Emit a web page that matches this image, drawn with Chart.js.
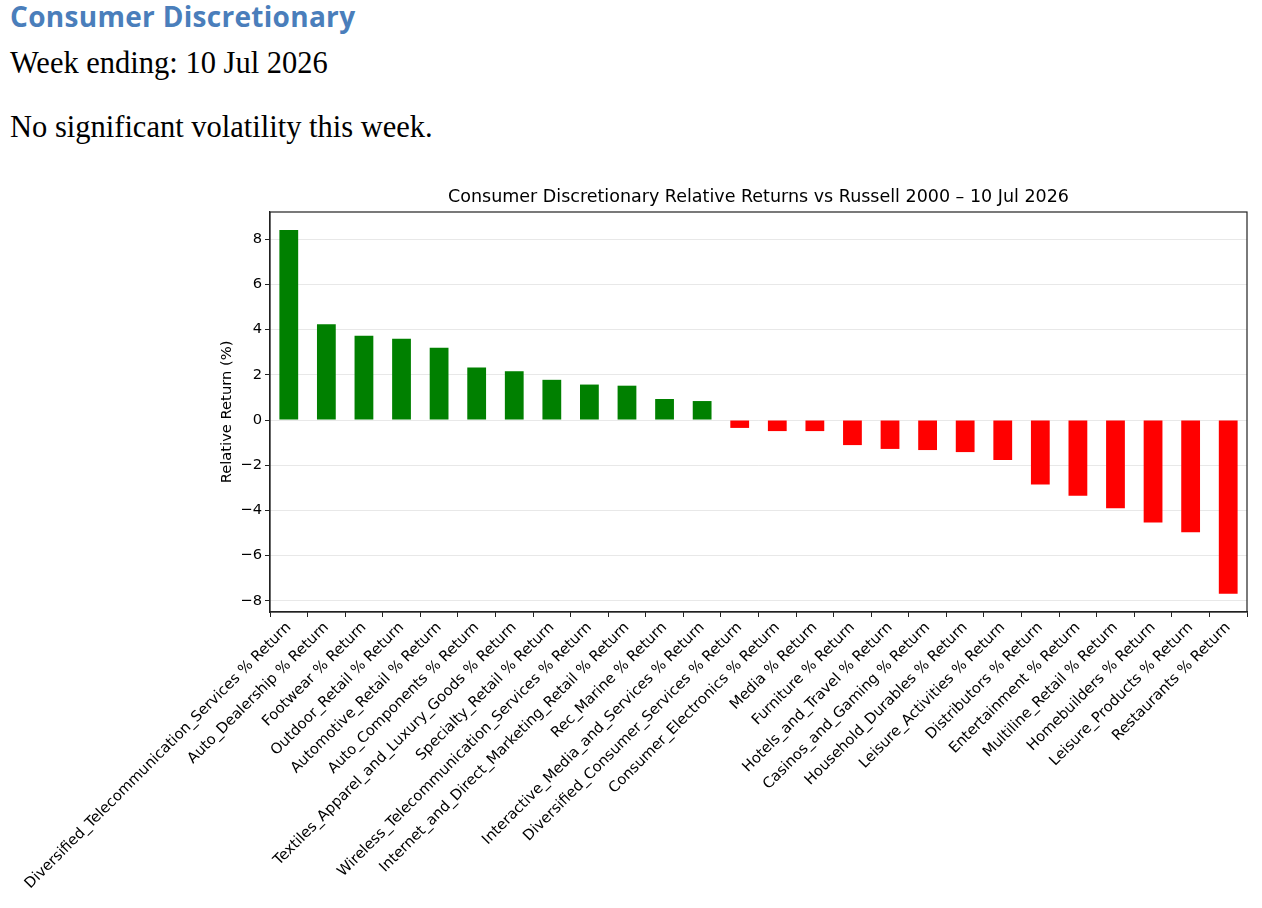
<!DOCTYPE html>
<html>
<head>
<meta charset="utf-8">
<script src="https://cdn.jsdelivr.net/npm/chart.js@4.4.1/dist/chart.umd.min.js"></script>
<style>
  html, body { margin: 0; padding: 0; background: #fff; width: 1262px; height: 908px; overflow: hidden; }
  .t { position: absolute; left: 10px; white-space: nowrap; line-height: 1; }
  #h1 { top: 2px; font-family: "Open Sans", Lato, sans-serif; font-weight: bold; font-size: 28px; letter-spacing: 0.3px; color: #4a7ebb; }
  #h2 { top: 48px; font-family: "Liberation Serif", serif; font-size: 30.5px; color: #000; }
  #h3 { top: 112px; font-family: "Liberation Serif", serif; font-size: 30.5px; color: #000; }
  #wrap { position: absolute; left: 0; top: 180px; }
</style>
</head>
<body>
<div class="t" id="h1">Consumer Discretionary</div>
<div class="t" id="h2">Week ending: 10 Jul 2026</div>
<div class="t" id="h3">No significant volatility this week.</div>
<div id="wrap"><canvas id="bars" width="1262" height="728"></canvas></div>
<script>
let categories = [
  'Diversified_Telecommunication_Services % Return',
  'Auto_Dealership % Return',
  'Footwear % Return',
  'Outdoor_Retail % Return',
  'Automotive_Retail % Return',
  'Auto_Components % Return',
  'Textiles_Apparel_and_Luxury_Goods % Return',
  'Specialty_Retail % Return',
  'Wireless_Telecommunication_Services % Return',
  'Internet_and_Direct_Marketing_Retail % Return',
  'Rec_Marine % Return',
  'Interactive_Media_and_Services % Return',
  'Diversified_Consumer_Services % Return',
  'Consumer_Electronics % Return',
  'Media % Return',
  'Furniture % Return',
  'Hotels_and_Travel % Return',
  'Casinos_and_Gaming % Return',
  'Household_Durables % Return',
  'Leisure_Activities % Return',
  'Distributors % Return',
  'Entertainment % Return',
  'Multiline_Retail % Return',
  'Homebuilders % Return',
  'Leisure_Products % Return',
  'Restaurants % Return'
];
let relReturns = [
  8.41, 4.24, 3.73, 3.60, 3.20, 2.32, 2.16, 1.78, 1.57, 1.52, 0.93, 0.84,
  -0.35, -0.49, -0.49, -1.11, -1.28, -1.33, -1.42, -1.77, -2.86, -3.35, -3.91, -4.54, -4.97, -7.69
];
let yTicks = [-8, -6, -4, -2, 0, 2, 4, 6, 8];

let barColors = relReturns.map(v => v >= 0 ? '#008000' : '#ff0000');
let minus = (s) => String(s).replace('-', '\u2212');

// matplotlib style: box round the plot, title centred over the axes
let frame = {
  id: 'frame',
  afterLayout(chart) {
    let tb = chart.titleBlock;
    if (tb) {
      tb.left = chart.chartArea.left;
      tb.right = chart.chartArea.right;
    }
  },
  afterDraw(chart) {
    let a = chart.chartArea;
    let c = chart.ctx;
    c.save();
    c.strokeStyle = '#222';
    c.lineWidth = 1.2;
    c.strokeRect(a.left, a.top, a.right - a.left, a.bottom - a.top);
    c.restore();
  }
};

Chart.defaults.font.family = '"DejaVu Sans", sans-serif';
Chart.defaults.color = '#000';

let ctx = document.getElementById('bars').getContext('2d');
let chart = new Chart(ctx, {
  type: 'bar',
  data: {
    labels: categories,
    datasets: [{
      data: relReturns,
      backgroundColor: barColors,
      borderWidth: 0,
      barPercentage: 0.5,
      categoryPercentage: 1.0
    }]
  },
  options: {
    responsive: false,
    animation: false,
    layout: { padding: { left: 214, right: 15, top: 0, bottom: 0 } },
    plugins: {
      legend: { display: false },
      tooltip: { enabled: false },
      title: {
        display: true,
        text: 'Consumer Discretionary Relative Returns vs Russell 2000 \u2013 10 Jul 2026',
        font: { size: 17.5, weight: 'normal' },
        color: '#000',
        padding: { top: 7, bottom: 4 }
      }
    },
    scales: {
      x: {
        offset: true,
        grid: { drawOnChartArea: false, drawTicks: true, tickLength: 5, tickColor: '#222' },
        border: { color: '#222', width: 1.2 },
        ticks: { autoSkip: false, maxRotation: 45, minRotation: 45, font: { size: 14.7 }, padding: 2 },
        afterFit: (s) => { s.height = 296; }
      },
      y: {
        min: -8.5,
        max: 9.21,
        afterBuildTicks: (s) => { s.ticks = yTicks.map(v => ({ value: v })); },
        grid: { color: 'rgba(0,0,0,0.09)', drawTicks: true, tickLength: 5, tickColor: '#222' },
        border: { color: '#222', width: 1.2 },
        ticks: { font: { size: 14.7 }, padding: 3, callback: (v) => minus(v) },
        title: { display: true, text: 'Relative Return (%)', font: { size: 14.7 }, padding: { top: 4, bottom: 4 } },
        afterFit: (s) => { s.width = 56; }
      }
    }
  },
  plugins: [frame]
});
</script>
</body>
</html>
